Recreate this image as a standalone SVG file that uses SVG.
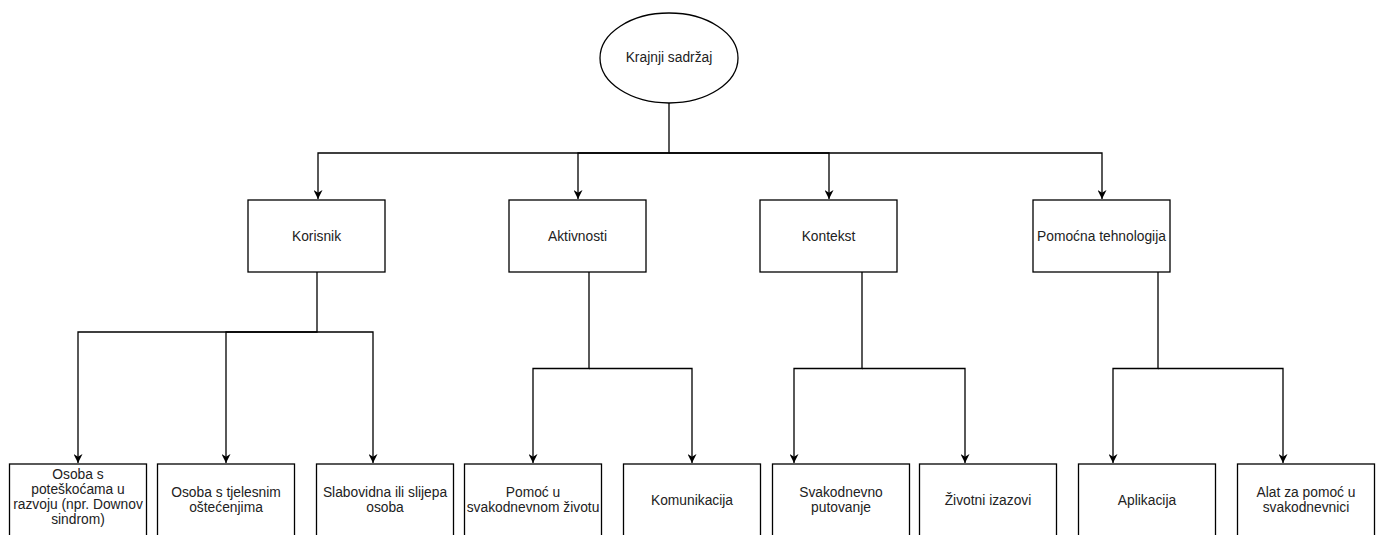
<svg xmlns="http://www.w3.org/2000/svg" width="1376" height="535" viewBox="0 0 1376 535">
<defs>
<style>
.box{fill:#fff;stroke:#000;stroke-width:1.3}
.lbl{font-family:"Liberation Sans",Arial,sans-serif;font-size:13.8px;fill:#222;text-anchor:middle}
.edge{fill:none;stroke:#000;stroke-width:1.3}
</style>
<marker id="arr" viewBox="0 0 10 10" refX="10" refY="5" markerWidth="9" markerHeight="9" markerUnits="userSpaceOnUse" orient="auto">
<path d="M0,0 L10,5 L0,10 L3,5 Z" fill="#000"/>
</marker>
</defs>
<rect width="1376" height="535" fill="#fff"/>
<g id="connectors">
<path class="edge" d="M669,103 V153 H318 V199" marker-end="url(#arr)"/>
<path class="edge" d="M669,153 H578 V199" marker-end="url(#arr)"/>
<path class="edge" d="M669,153 H829 V199" marker-end="url(#arr)"/>
<path class="edge" d="M669,153 H1102 V199" marker-end="url(#arr)"/>
<path class="edge" d="M317,272 V332 H78 V463" marker-end="url(#arr)"/>
<path class="edge" d="M317,332 H226 V463" marker-end="url(#arr)"/>
<path class="edge" d="M317,332 H373 V463" marker-end="url(#arr)"/>
<path class="edge" d="M589,272 V368.5 H533 V463" marker-end="url(#arr)"/>
<path class="edge" d="M589,368.5 H692 V463" marker-end="url(#arr)"/>
<path class="edge" d="M862,272 V368.5 H794 V463" marker-end="url(#arr)"/>
<path class="edge" d="M862,368.5 H965 V463" marker-end="url(#arr)"/>
<path class="edge" d="M1158,272 V368.5 H1113 V463" marker-end="url(#arr)"/>
<path class="edge" d="M1158,368.5 H1283 V463" marker-end="url(#arr)"/>
</g>
<g id="root"><ellipse class="box" cx="669" cy="58" rx="69" ry="45"/><text class="lbl" x="669" y="62">Krajnji sadržaj</text></g>
<g id="korisnik"><rect class="box" x="248" y="200" width="137" height="72"/><text class="lbl" x="316.5" y="241">Korisnik</text></g>
<g id="aktivnosti"><rect class="box" x="509" y="200" width="137" height="72"/><text class="lbl" x="577.5" y="241">Aktivnosti</text></g>
<g id="kontekst"><rect class="box" x="760" y="200" width="137" height="72"/><text class="lbl" x="828.5" y="241">Kontekst</text></g>
<g id="pomocna"><rect class="box" x="1033" y="200" width="137" height="72"/><text class="lbl" x="1101.5" y="241">Pomoćna tehnologija</text></g>
<g id="osoba-razvoj"><rect class="box" x="9.5" y="464" width="137" height="72"/><text class="lbl" x="78" y="479">Osoba s</text><text class="lbl" x="78" y="494">poteškoćama u</text><text class="lbl" x="78" y="509">razvoju (npr. Downov</text><text class="lbl" x="78" y="524">sindrom)</text></g>
<g id="osoba-tjelesno"><rect class="box" x="157.5" y="464" width="137" height="72"/><text class="lbl" x="226" y="497">Osoba s tjelesnim</text><text class="lbl" x="226" y="512">oštećenjima</text></g>
<g id="slabovidna"><rect class="box" x="316.5" y="464" width="137" height="72"/><text class="lbl" x="385" y="497">Slabovidna ili slijepa</text><text class="lbl" x="385" y="512">osoba</text></g>
<g id="pomoc-zivot"><rect class="box" x="464.5" y="464" width="137" height="72"/><text class="lbl" x="533" y="497">Pomoć u</text><text class="lbl" x="533" y="512">svakodnevnom životu</text></g>
<g id="komunikacija"><rect class="box" x="623.5" y="464" width="137" height="72"/><text class="lbl" x="692" y="505">Komunikacija</text></g>
<g id="putovanje"><rect class="box" x="772.5" y="464" width="137" height="72"/><text class="lbl" x="841" y="497">Svakodnevno</text><text class="lbl" x="841" y="512">putovanje</text></g>
<g id="izazovi"><rect class="box" x="919.5" y="464" width="137" height="72"/><text class="lbl" x="988" y="505">Životni izazovi</text></g>
<g id="aplikacija"><rect class="box" x="1078.5" y="464" width="137" height="72"/><text class="lbl" x="1147" y="505">Aplikacija</text></g>
<g id="alat"><rect class="box" x="1237.5" y="464" width="137" height="72"/><text class="lbl" x="1306" y="497">Alat za pomoć u</text><text class="lbl" x="1306" y="512">svakodnevnici</text></g>
</svg>
